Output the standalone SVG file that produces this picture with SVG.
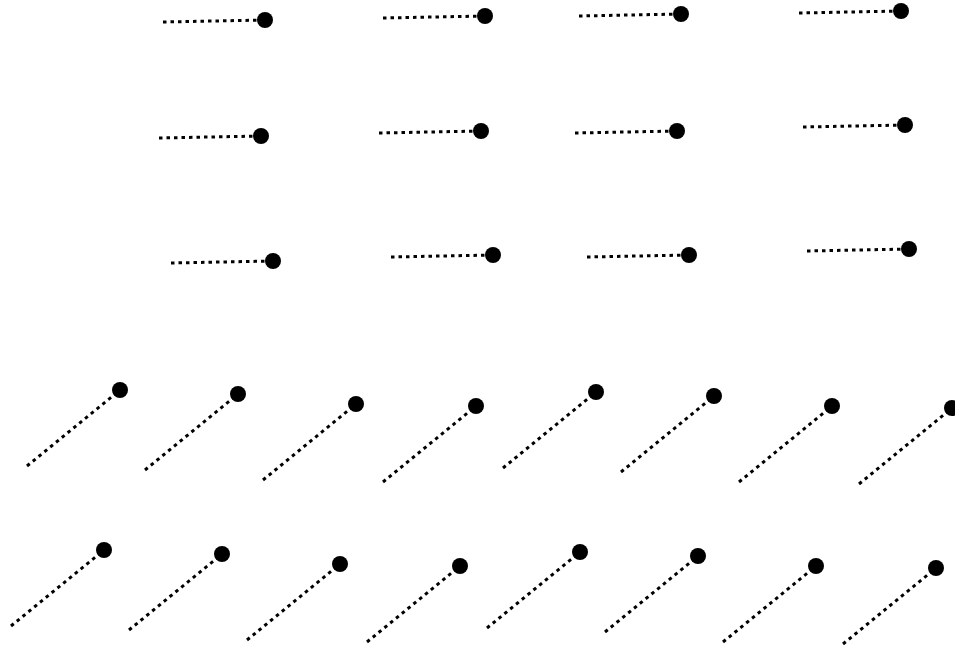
<svg xmlns="http://www.w3.org/2000/svg" width="955" height="649" viewBox="0 0 955 649">
<style>
.c line{stroke:#000;stroke-width:3;stroke-dasharray:3.5,4;fill:none}
circle{fill:#000}
</style>
<rect width="955" height="649" fill="#fff"/>
<g id="connectors" class="c">
<line x1="163" y1="22" x2="265" y2="20"/>
<line x1="383" y1="18" x2="485" y2="16"/>
<line x1="579" y1="16" x2="681" y2="14"/>
<line x1="799" y1="13" x2="901" y2="11"/>
<line x1="159" y1="138" x2="261" y2="136"/>
<line x1="379" y1="133" x2="481" y2="131"/>
<line x1="575" y1="133" x2="677" y2="131"/>
<line x1="803" y1="127" x2="905" y2="125"/>
<line x1="171" y1="263" x2="273" y2="261"/>
<line x1="391" y1="257" x2="493" y2="255"/>
<line x1="587" y1="257" x2="689" y2="255"/>
<line x1="807" y1="251" x2="909" y2="249"/>
<line x1="27" y1="466" x2="120" y2="390"/>
<line x1="145" y1="470" x2="238" y2="394"/>
<line x1="263" y1="480" x2="356" y2="404"/>
<line x1="383" y1="482" x2="476" y2="406"/>
<line x1="503" y1="468" x2="596" y2="392"/>
<line x1="621" y1="472" x2="714" y2="396"/>
<line x1="739" y1="482" x2="832" y2="406"/>
<line x1="859" y1="484" x2="952" y2="408"/>
<line x1="11" y1="626" x2="104" y2="550"/>
<line x1="129" y1="630" x2="222" y2="554"/>
<line x1="247" y1="640" x2="340" y2="564"/>
<line x1="367" y1="642" x2="460" y2="566"/>
<line x1="487" y1="628" x2="580" y2="552"/>
<line x1="605" y1="632" x2="698" y2="556"/>
<line x1="723" y1="642" x2="816" y2="566"/>
<line x1="843" y1="644" x2="936" y2="568"/>
</g>
<g id="n1"><circle cx="265" cy="20" r="8"/></g>
<g id="n2"><circle cx="485" cy="16" r="8"/></g>
<g id="n3"><circle cx="681" cy="14" r="8"/></g>
<g id="n4"><circle cx="901" cy="11" r="8"/></g>
<g id="n5"><circle cx="261" cy="136" r="8"/></g>
<g id="n6"><circle cx="481" cy="131" r="8"/></g>
<g id="n7"><circle cx="677" cy="131" r="8"/></g>
<g id="n8"><circle cx="905" cy="125" r="8"/></g>
<g id="n9"><circle cx="273" cy="261" r="8"/></g>
<g id="n10"><circle cx="493" cy="255" r="8"/></g>
<g id="n11"><circle cx="689" cy="255" r="8"/></g>
<g id="n12"><circle cx="909" cy="249" r="8"/></g>
<g id="n13"><circle cx="120" cy="390" r="8"/></g>
<g id="n14"><circle cx="238" cy="394" r="8"/></g>
<g id="n15"><circle cx="356" cy="404" r="8"/></g>
<g id="n16"><circle cx="476" cy="406" r="8"/></g>
<g id="n17"><circle cx="596" cy="392" r="8"/></g>
<g id="n18"><circle cx="714" cy="396" r="8"/></g>
<g id="n19"><circle cx="832" cy="406" r="8"/></g>
<g id="n20"><circle cx="952" cy="408" r="8"/></g>
<g id="n21"><circle cx="104" cy="550" r="8"/></g>
<g id="n22"><circle cx="222" cy="554" r="8"/></g>
<g id="n23"><circle cx="340" cy="564" r="8"/></g>
<g id="n24"><circle cx="460" cy="566" r="8"/></g>
<g id="n25"><circle cx="580" cy="552" r="8"/></g>
<g id="n26"><circle cx="698" cy="556" r="8"/></g>
<g id="n27"><circle cx="816" cy="566" r="8"/></g>
<g id="n28"><circle cx="936" cy="568" r="8"/></g>
</svg>
